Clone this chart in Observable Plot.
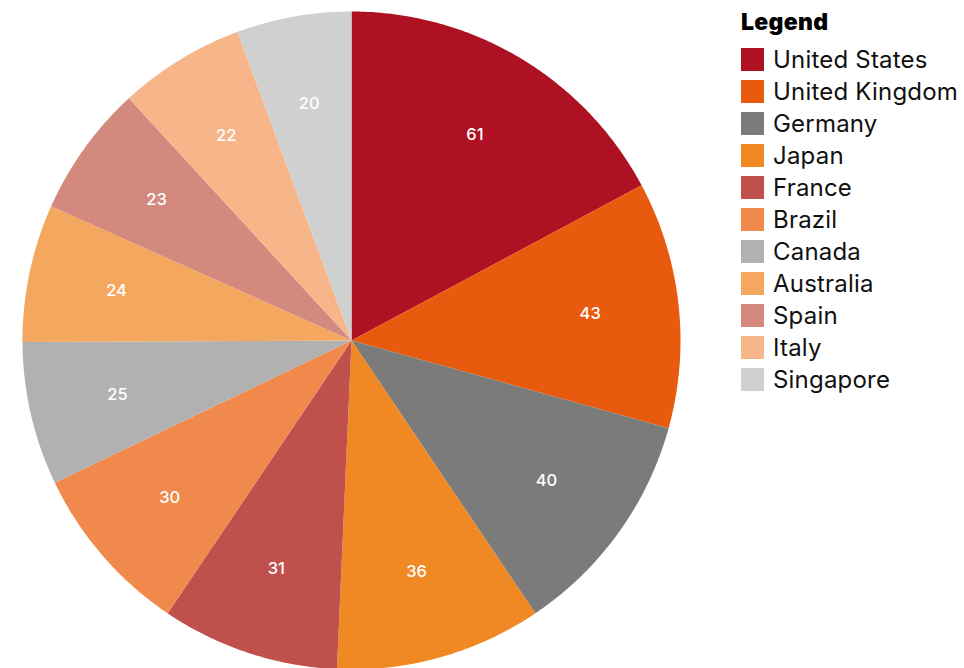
<!DOCTYPE html>
<html>
<head>
<meta charset="utf-8">
<script src="https://cdn.jsdelivr.net/npm/d3@7"></script>
<script src="https://cdn.jsdelivr.net/npm/@observablehq/plot@0.6"></script>
<style>
  html, body { margin: 0; padding: 0; background: #fff; }
  body { font-family: Inter, "Noto Sans", sans-serif; }
  #wrap { position: relative; width: 964px; height: 668px; overflow: hidden; }
  #chart { position: absolute; left: 0; top: 0; }
  #legend { position: absolute; left: 741px; top: 8px; }
  #legend .title { font-weight: 900; font-size: 23px; color: #000; line-height: 28px; margin-bottom: 7px; letter-spacing: 0.3px; }
  #legend .item { display: flex; align-items: center; height: 32px; }
  #legend .sw { width: 23px; height: 23px; margin-right: 9px; flex: none; }
  #legend .lab { font-size: 24px; color: #111; white-space: nowrap; letter-spacing: 0.2px; }
</style>
</head>
<body>
<div id="wrap">
  <div id="chart"></div>
  <div id="legend"></div>
</div>
<script>
const countries = ["United States", "United Kingdom", "Germany", "Japan", "France", "Brazil", "Canada", "Australia", "Spain", "Italy", "Singapore"];
const values = [61, 43, 40, 36, 31, 30, 25, 24, 23, 22, 20];
const colors = ["#ad1122", "#e85b0e", "#7b7b7b", "#f08824", "#c0504b", "#f0894b", "#b1b1b1", "#f4a75e", "#d4897e", "#f7b58a", "#d0d0d0"];

const pie = d3.pie().sort(null).value((d) => d.value);
const arcs = pie(countries.map((name, i) => ({ name, value: values[i] })));

// Polygon vertices for each slice (angles measured clockwise from north), unit circle
const polyPoints = [];
for (const a of arcs) {
  const n = Math.max(2, Math.ceil((a.endAngle - a.startAngle) / 0.01));
  polyPoints.push({ name: a.data.name, x: 0, y: 0 });
  for (let k = 0; k <= n; k++) {
    const t = a.startAngle + (a.endAngle - a.startAngle) * k / n;
    polyPoints.push({ name: a.data.name, x: Math.sin(t), y: Math.cos(t) });
  }
  polyPoints.push({ name: a.data.name, x: 0, y: 0 });
}
const labels = arcs.map((a) => {
  const m = (a.startAngle + a.endAngle) / 2;
  return { name: a.data.name, value: a.data.value, x: 0.73 * Math.sin(m), y: 0.73 * Math.cos(m) };
});

const cx = 351, cy = 340, r = 329;
const plot = Plot.plot({
  width: 964,
  height: 668,
  margin: 0,
  style: { fontFamily: "Inter, 'Noto Sans', sans-serif", background: "transparent" },
  x: { domain: [-1, 1], range: [cx - r, cx + r], axis: null },
  y: { domain: [-1, 1], range: [cy + r, cy - r], axis: null },
  color: { type: "ordinal", domain: countries, range: colors },
  marks: [
    Plot.line(polyPoints, { x: "x", y: "y", z: "name", fill: "name", stroke: "none", curve: "linear" }),
    Plot.text(labels, { x: "x", y: "y", text: (d) => String(d.value), fill: "white", fontSize: 16.5, fontWeight: 500 })
  ]
});
document.getElementById("chart").appendChild(plot);

const legend = d3.select("#legend");
legend.append("div").attr("class", "title").text("Legend");
countries.forEach((c, i) => {
  const it = legend.append("div").attr("class", "item");
  it.append("div").attr("class", "sw").style("background", colors[i]);
  it.append("div").attr("class", "lab").text(c);
});
</script>
</body>
</html>
